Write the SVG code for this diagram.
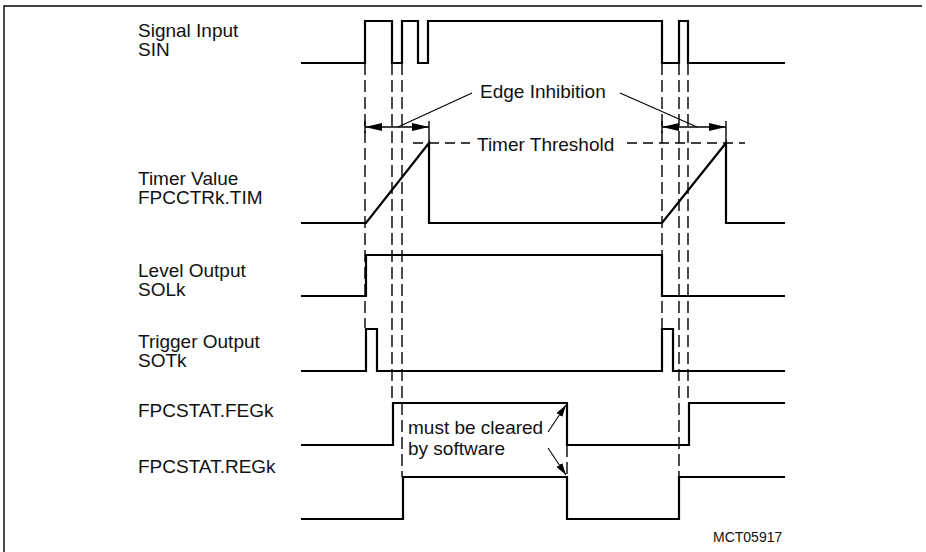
<svg xmlns="http://www.w3.org/2000/svg" width="926" height="552" viewBox="0 0 926 552">
<style>
  text { font-family: "Liberation Sans", Arial, sans-serif; font-size: 19px; fill: #111; }
  .small { font-size: 14px; }
  .sig { fill: none; stroke: #000; stroke-width: 2.2; stroke-linejoin: miter; }
  .dash { fill: none; stroke: #000; stroke-width: 1.4; stroke-dasharray: 12 5; }
  .thr { fill: none; stroke: #000; stroke-width: 1.4; stroke-dasharray: 10 6; }
  .thin { fill: none; stroke: #000; stroke-width: 1.1; }
  .dim { fill: none; stroke: #000; stroke-width: 1.4; }
  .frame { fill: none; stroke: #000; stroke-width: 1.4; }
</style>
<defs>
  <marker id="ah" viewBox="0 0 17 8" refX="17" refY="4" markerWidth="17" markerHeight="8" orient="auto-start-reverse" markerUnits="userSpaceOnUse">
    <path d="M0,0 L17,4 L0,8 z" fill="#000"/>
  </marker>
  <marker id="ahs" viewBox="0 0 12 7" refX="12" refY="3.5" markerWidth="12" markerHeight="7" orient="auto" markerUnits="userSpaceOnUse">
    <path d="M0,0 L12,3.5 L0,7 z" fill="#000"/>
  </marker>
</defs>
<rect width="926" height="552" fill="#fff"/>
<path class="frame" d="M4,552 V6 H922"/>

<g id="connectors">
  <!-- vertical dashed guide lines -->
  <path class="dash" d="M365,63 V328"/>
  <path class="dash" d="M392,63 V403"/>
  <path class="dash" d="M402,63 V477"/>
  <path class="dash" d="M662,63 V328"/>
  <path class="dash" d="M679,63 V477"/>
  <path class="dash" d="M688,63 V403"/>
  <path class="dash" d="M567,445 V477"/>
  <!-- timer threshold -->
  <path class="thr" d="M413,143 H470"/>
  <path class="thr" d="M627,143 H745"/>
  <!-- edge inhibition dimensions -->
  <path class="dim" d="M365,121 V133 M429,121 V143 M662,121 V133 M726,121 V143"/>
  <path class="dim" d="M365,127 H429" marker-start="url(#ah)" marker-end="url(#ah)"/>
  <path class="dim" d="M662,127 H726" marker-start="url(#ah)" marker-end="url(#ah)"/>
  <path class="thin" d="M472,93 L398,127"/>
  <path class="thin" d="M620,93 L697,127"/>
  <!-- must be cleared arrows -->
  <path class="thin" d="M548,432 L566,405" marker-end="url(#ahs)"/>
  <path class="thin" d="M548,448 L566,475" marker-end="url(#ahs)"/>
</g>

<g id="sin">
  <text x="138" y="37">Signal Input</text>
  <text x="138" y="56">SIN</text>
  <path class="sig" d="M301,63 H365 V21 H392 V63 H402 V21 H418 V63 H428 V21 H662 V63 H679 V21 H688 V63 H785"/>
</g>

<g id="timer">
  <text x="138" y="185">Timer Value</text>
  <text x="138" y="204">FPCCTRk.TIM</text>
  <path class="sig" d="M301,223 H366 L429,143 V223 H662 L726,143 V223 H785"/>
</g>

<g id="sol">
  <text x="138" y="277">Level Output</text>
  <text x="138" y="296">SOLk</text>
  <path class="sig" d="M301,296 H366 V255 H662 V296 H785"/>
</g>

<g id="sot">
  <text x="138" y="348">Trigger Output</text>
  <text x="138" y="367">SOTk</text>
  <path class="sig" d="M301,371 H366 V329 H377 V371 H662 V329 H673 V371 H785"/>
</g>

<g id="feg">
  <text x="138" y="417">FPCSTAT.FEGk</text>
  <path class="sig" d="M301,445 H393 V403 H567 V445 H689 V403 H785"/>
</g>

<g id="reg">
  <text x="138" y="473">FPCSTAT.REGk</text>
  <path class="sig" d="M301,519 H403 V477 H567 V519 H679 V477 H785"/>
</g>

<g id="labels">
  <text x="480" y="98">Edge Inhibition</text>
  <text x="477" y="151">Timer Threshold</text>
  <text x="408" y="434">must be cleared</text>
  <text x="408" y="455">by software</text>
  <text class="small" x="713" y="542">MCT05917</text>
</g>
</svg>
